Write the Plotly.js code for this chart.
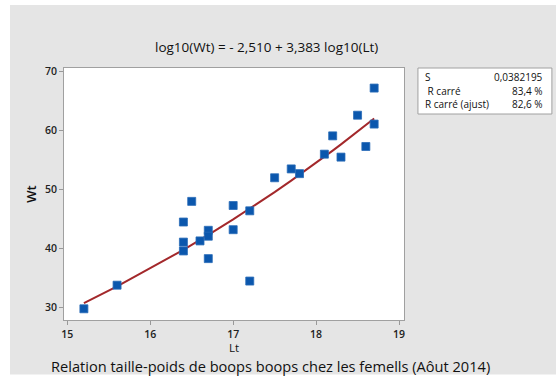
<!DOCTYPE html>
<html>
<head>
<meta charset="utf-8">
<script src="https://cdn.plot.ly/plotly-3.0.1.min.js"></script>
<style>
html,body{margin:0;padding:0;background:#ffffff;}
#chart{position:absolute;left:10px;top:5px;width:546px;height:374px;}
</style>
</head>
<body>
<div id="chart"></div>
<script>
// Data
const lt = [15.2, 15.6, 16.4, 16.4, 16.4, 16.5, 16.6, 16.7, 16.7, 16.7, 17.0, 17.0, 17.2, 17.2, 17.5, 17.7, 17.8, 18.1, 18.2, 18.3, 18.5, 18.6, 18.7, 18.7];
const wt = [29.8, 33.8, 44.5, 41.1, 39.6, 48.0, 41.3, 43.1, 42.1, 38.3, 47.3, 43.2, 46.4, 34.5, 52.0, 53.5, 52.7, 56.0, 59.1, 55.5, 62.6, 57.3, 67.2, 61.1];
// Regression coefficients shown in the title
const intercept = -2.510;
const slope = 3.383;
const xTicks = [15, 16, 17, 18, 19];
const yTicks = [30, 40, 50, 60, 70];
const statLabels = ["S", " R carré", "R carré (ajust)"];
const statValues = ["0,0382195", "83,4 %", "82,6 %"];

// Fitted line evaluated at the observed Lt values
const fitX = [...new Set(lt)].sort((a,b)=>a-b);
const fitY = fitX.map(x => Math.pow(10, intercept + slope*Math.log10(x)));

const font = "'Open Sans', 'Noto Sans', sans-serif";

const traces = [
  {x: fitX, y: fitY, type: 'scatter', mode: 'lines',
   line: {color: '#a3282b', width: 2}, hoverinfo: 'skip'},
  {x: lt, y: wt, type: 'scatter', mode: 'markers',
   marker: {symbol: 'square', size: 8, color: '#0b57ad', line: {color: '#2a6cb8', width: 0.8}}}
];

// plot area: 252 px tall, bottom at page y=320
const H = 252;
const py = v => (320 - v) / H;   // page y -> paper y

const annotations = [
  {text: 'log10(Wt) = - 2,510 + 3,383 log10(Lt)', xref: 'paper', yref: 'paper',
   x: 0.597, y: py(47), xanchor: 'center', yanchor: 'middle', showarrow: false,
   font: {family: font, size: 13.5, color: '#111'}},
  {text: 'Lt', xref: 'paper', yref: 'paper',
   x: 0.5, y: py(347.5), xanchor: 'center', yanchor: 'middle', showarrow: false, borderpad: 0,
   font: {family: font, size: 11.5, color: '#111'}},
  {text: 'Relation taille-poids de boops boops chez les femells (Aôut 2014)', xref: 'paper', yref: 'paper',
   x: 0.606, y: py(365.5), xanchor: 'center', yanchor: 'middle', showarrow: false, borderpad: 0,
   font: {family: font, size: 14.6, color: '#111'}}
];
const rowY = [77, 91, 104];
for (let i = 0; i < statLabels.length; i++) {
  annotations.push({text: statLabels[i].replace(/^ /, '&nbsp;'), xref: 'paper', yref: 'paper',
    x: 1.055, y: py(rowY[i]), xanchor: 'left', yanchor: 'middle', showarrow: false,
    font: {family: font, size: 10, color: '#111'}});
  annotations.push({text: statValues[i], xref: 'paper', yref: 'paper',
    x: 1.415, y: py(rowY[i]), xanchor: 'right', yanchor: 'middle', showarrow: false,
    font: {family: font, size: 10, color: '#111'}});
}

const layout = {
  width: 546, height: 374,
  paper_bgcolor: '#e5e5e5', plot_bgcolor: '#ffffff',
  margin: {l: 54, r: 152, t: 63, b: 59, pad: 0},
  showlegend: false,
  font: {family: font, color: '#222'},
  xaxis: {range: [14.96, 19.06], tickvals: xTicks, ticktext: xTicks.map(String),
    ticks: 'outside', ticklen: 4, tickcolor: '#999', showgrid: false, zeroline: false,
    showline: true, linecolor: '#a0a0a0', linewidth: 1, mirror: true,
    tickfont: {family: font, size: 10.5, color: '#222', weight: 600}},
  yaxis: {range: [27.9, 70.6], tickvals: yTicks, ticktext: yTicks.map(String),
    ticks: 'outside', ticklen: 4, tickcolor: '#999', showgrid: false, zeroline: false,
    showline: true, linecolor: '#a0a0a0', linewidth: 1, mirror: true,
    tickfont: {family: font, size: 10.5, color: '#222', weight: 600},
    title: {text: 'Wt', font: {family: font, size: 13, color: '#111', weight: 600}, standoff: 5}},
  shapes: [
    {type: 'rect', xref: 'paper', yref: 'paper', x0: 1.041, x1: 1.435, y0: py(114), y1: py(68),
     fillcolor: '#ffffff', line: {color: '#a0a0a0', width: 1}, layer: 'below'},
    {type: 'rect', xref: 'paper', yref: 'paper', x0: -0.3, x1: 1.7, y0: py(374.5), y1: py(382),
     fillcolor: '#ffffff', line: {width: 0}, layer: 'above'}
  ],
  annotations: annotations
};

Plotly.newPlot('chart', traces, layout, {displayModeBar: false, staticPlot: true});
</script>
</body>
</html>
